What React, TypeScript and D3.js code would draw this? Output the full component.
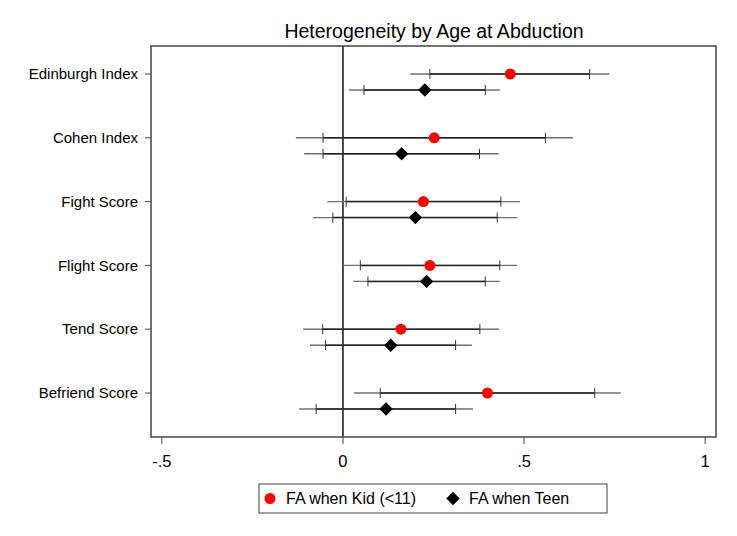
import React from 'react';
import * as d3 from 'd3';

const categories = ['Edinburgh Index', 'Cohen Index', 'Fight Score', 'Flight Score', 'Tend Score', 'Befriend Score'];

// point estimates with 90% (inner ticks) and 95% (whisker ends) intervals
const kidEst = [0.462, 0.252, 0.222, 0.240, 0.160, 0.399];
const kidLo90 = [0.240, -0.055, 0.009, 0.048, -0.056, 0.103];
const kidHi90 = [0.681, 0.559, 0.436, 0.433, 0.378, 0.695];
const kidLo95 = [0.186, -0.130, -0.043, 0.000, -0.110, 0.031];
const kidHi95 = [0.735, 0.635, 0.489, 0.481, 0.431, 0.767];

const teenEst = [0.226, 0.162, 0.200, 0.231, 0.132, 0.119];
const teenLo90 = [0.058, -0.055, -0.028, 0.069, -0.048, -0.074];
const teenHi90 = [0.393, 0.377, 0.426, 0.393, 0.311, 0.311];
const teenLo95 = [0.017, -0.107, -0.083, 0.028, -0.091, -0.121];
const teenHi95 = [0.433, 0.430, 0.481, 0.433, 0.356, 0.359];

const xTicks = [-0.5, 0, 0.5, 1];
const xTickLabels = ['-.5', '0', '.5', '1'];

const seriesNames = ['FA when Kid (<11)', 'FA when Teen'];

export default function App() {
    const W = 737;
    const H = 536;
    const plot = { left: 151, right: 716, top: 46, bottom: 437 };
    const font = '"Liberation Sans", Arial, sans-serif';

    const x = d3.scaleLinear().domain([-0.53, 1.03]).range([plot.left, plot.right]);
    const y = d3.scalePoint().domain(categories).range([plot.top + 28, plot.bottom - 44]);
    const teenOffset = 16;

    const series = [
        { est: kidEst, lo90: kidLo90, hi90: kidHi90, lo95: kidLo95, hi95: kidHi95, dy: 0, kind: 'circle' },
        { est: teenEst, lo90: teenLo90, hi90: teenHi90, lo95: teenLo95, hi95: teenHi95, dy: teenOffset, kind: 'diamond' }
    ];

    const diamond = d3.symbol().type(d3.symbolDiamond2).size(115)();

    return (
        <svg width={W} height={H} style={{ position: 'absolute', left: 0, top: 0, background: 'white' }} fontFamily={font}>
            <rect x={0} y={0} width={W} height={H} fill="white" />
            <text x={434} y={38} textAnchor="middle" fontSize={19.5} fill="#000">
                Heterogeneity by Age at Abduction
            </text>

            {/* zero reference */}
            <line x1={x(0)} x2={x(0)} y1={plot.top} y2={plot.bottom} stroke="#111" strokeWidth={1.5} />

            {series.map((s, si) => (
                <g key={si}>
                    {categories.map((c, i) => {
                        const cy = y(c) + s.dy;
                        return (
                            <g key={c}>
                                <line x1={x(s.lo95[i])} x2={x(s.hi95[i])} y1={cy} y2={cy} stroke="#707070" strokeWidth={1.4} />
                                <line x1={x(s.lo90[i])} x2={x(s.hi90[i])} y1={cy} y2={cy} stroke="#222" strokeWidth={1.5} />
                                {[s.lo90[i], s.hi90[i]].map((v, k) => (
                                    <line key={k} x1={x(v)} x2={x(v)} y1={cy - 5} y2={cy + 5} stroke="#333" strokeWidth={1} />
                                ))}
                                {s.kind === 'circle' ? (
                                    <circle cx={x(s.est[i])} cy={cy} r={5.5} fill="#ff0000" />
                                ) : (
                                    <path d={diamond} transform={`translate(${x(s.est[i])},${cy})`} fill="#000" />
                                )}
                            </g>
                        );
                    })}
                </g>
            ))}

            {/* frame */}
            <rect x={plot.left} y={plot.top} width={plot.right - plot.left} height={plot.bottom - plot.top}
                fill="none" stroke="#444" strokeWidth={1.5} />

            {/* y axis */}
            {categories.map((c) => (
                <g key={c}>
                    <line x1={plot.left - 6} x2={plot.left} y1={y(c)} y2={y(c)} stroke="#444" strokeWidth={1} />
                    <text x={plot.left - 13} y={y(c)} dy="0.35em" textAnchor="end" fontSize={15} fill="#000">{c}</text>
                </g>
            ))}

            {/* x axis */}
            {xTicks.map((t, i) => (
                <g key={t}>
                    <line x1={x(t)} x2={x(t)} y1={plot.bottom} y2={plot.bottom + 7} stroke="#444" strokeWidth={1} />
                    <text x={x(t)} y={plot.bottom + 30} textAnchor="middle" fontSize={16.5} fill="#000">{xTickLabels[i]}</text>
                </g>
            ))}

            {/* legend */}
            <g>
                <rect x={259} y={484} width={348} height={29} fill="white" stroke="#444" strokeWidth={1} />
                <circle cx={270} cy={498.5} r={5.5} fill="#ff0000" />
                <text x={286} y={498.5} dy="0.35em" fontSize={16} fill="#000">{seriesNames[0]}</text>
                <path d={diamond} transform="translate(453,498.5)" fill="#000" />
                <text x={469} y={498.5} dy="0.35em" fontSize={16} fill="#000">{seriesNames[1]}</text>
            </g>
        </svg>
    );
}
